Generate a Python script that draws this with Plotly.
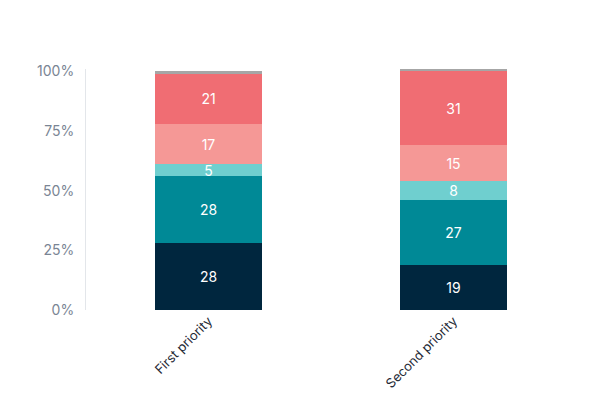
import plotly.graph_objects as go

categories = ['First priority', 'Second priority']
seg_names = ['A', 'B', 'C', 'D', 'E', 'F']
seg_values = [
    [28, 19],
    [28, 27],
    [5, 8],
    [17, 15],
    [21, 31],
    [1, 1],
]
seg_colors = ['#00263e', '#008996', '#6fcfcf', '#f59896', '#f06d73', '#a6a6a6']
show_text = [True, True, True, True, True, False]

fig = go.Figure()
for name, vals, color, st in zip(seg_names, seg_values, seg_colors, show_text):
    fig.add_trace(go.Bar(
        x=categories, y=vals, name=name,
        marker=dict(color=color, line=dict(width=0)),
        text=[str(v) for v in vals] if st else None,
        textposition='inside', insidetextanchor='middle', textangle=0,
        textfont=dict(color='white', size=14),
        hoverinfo='skip',
    ))

fig.update_layout(
    barmode='stack', bargap=0.56,
    width=600, height=400,
    margin=dict(l=78, r=32, t=61, b=98),
    plot_bgcolor='white', paper_bgcolor='white',
    showlegend=False,
    font=dict(family='Inter', color='#7a8594', size=14),
    uniformtext=dict(minsize=12, mode='show'),
)
fig.update_xaxes(showline=False, ticks='', tickangle=-45, automargin=False,
                 tickfont=dict(color='#1f2a36', size=13))
fig.update_yaxes(range=[0, 101], tickvals=[0, 25, 50, 75, 100],
                 ticktext=['0%', '25%', '50%', '75%', '100%'], automargin=False,
                 showgrid=False, zeroline=False, showline=True, linecolor='#e3e6ea',
                 ticks='', ticklabelstandoff=8)

fig.write_html("out.html")
